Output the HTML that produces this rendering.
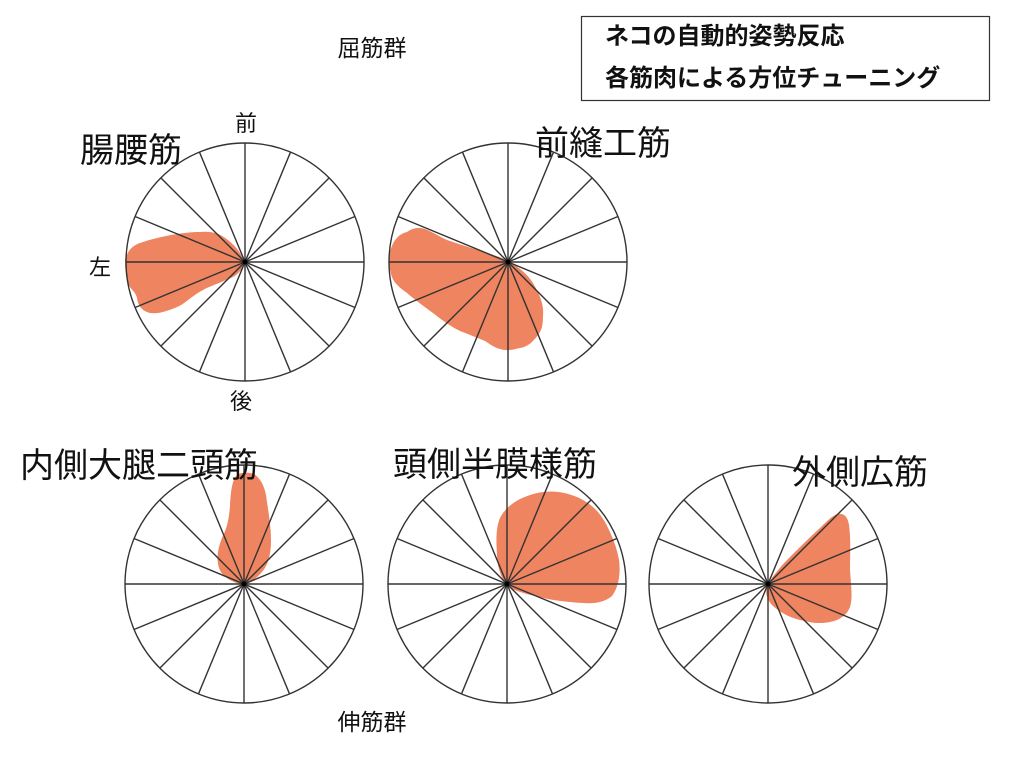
<!DOCTYPE html>
<html><head><meta charset="utf-8"><style>
body{margin:0;background:#fff;}
svg text{font-family:"Liberation Sans","Noto Sans CJK JP",sans-serif;fill:#111;}
</style></head><body>
<svg width="1024" height="768" viewBox="0 0 1024 768" xmlns="http://www.w3.org/2000/svg">
<defs>
<g id="sp" stroke="#333" stroke-width="1.4" fill="none">
<circle r="119"/>
<line x1="-119" y1="0" x2="119" y2="0"/>
<line x1="-119" y1="0" x2="119" y2="0" transform="rotate(22.5)"/>
<line x1="-119" y1="0" x2="119" y2="0" transform="rotate(45)"/>
<line x1="-119" y1="0" x2="119" y2="0" transform="rotate(67.5)"/>
<line x1="-119" y1="0" x2="119" y2="0" transform="rotate(90)"/>
<line x1="-119" y1="0" x2="119" y2="0" transform="rotate(112.5)"/>
<line x1="-119" y1="0" x2="119" y2="0" transform="rotate(135)"/>
<line x1="-119" y1="0" x2="119" y2="0" transform="rotate(157.5)"/>
</g>
</defs>
<g fill="#ee8460" stroke="none">
<path d="M125,260 C128,250 132,246 140,243 C160,236 185,232 200,232 C210,231 218,233 222,236 C232,242 240,250 245,263 C242,270 238,274 233,277 C220,283 210,286 203,290 C190,297 185,304 177,307 C165,312 158,314 150,313 C142,311 138,306 137,298 C136,293 132,290 130,287 C127,282 125,272 125,260 Z"/>
<path d="M390,253 C392,242 398,234 407,232 C413,228 418,227 425,229 C433,232 440,237 447,240 C470,248 490,253 507,260 C520,268 528,275 533,283 C540,295 544,305 543,315 C543,325 542,330 538,335 C532,343 527,347 520,348 C512,350 507,351 500,349 C493,347 490,344 485,341 C475,337 468,334 460,331 C450,326 442,320 433,313 C422,305 414,299 407,293 C400,288 394,283 392,277 C389,269 389,260 390,253 Z"/>
<path d="M243,585 C232,582 222,577 219,568 C216,558 218,548 222,538 C227,528 229,520 230,505 C231,490 232,482 236,476 C240,472 248,472 254,474 C260,478 264,485 266,495 C268,510 271,525 271,540 C271,555 268,565 262,572 C257,578 250,583 243,585 Z"/>
<path d="M506,585 C500,575 497,565 497,555 C496,540 496,527 500,518 C505,508 515,500 530,495 C545,490 560,490 577,497 C590,503 598,510 605,522 C612,535 617,548 619,560 C621,575 618,588 612,596 C605,602 595,604 583,603 C565,602 550,600 535,596 C522,593 512,590 506,585 Z"/>
<path d="M768,584 C775,573 782,565 790,557 C800,547 810,537 820,528 C828,520 833,515 838,514 C845,513 848,518 849,525 C851,540 850,555 850,570 C851,585 853,598 850,607 C847,615 840,620 830,622 C820,624 812,623 800,620 C788,617 780,612 773,606 C767,600 764,592 768,584 Z"/>
</g>
<use href="#sp" x="245" y="262"/>
<use href="#sp" x="508" y="262"/>
<use href="#sp" x="244" y="584"/>
<use href="#sp" x="507" y="584"/>
<use href="#sp" x="768" y="584"/>
<g fill="#000">
<circle cx="245" cy="262" r="2.5"/><circle cx="508" cy="262" r="2.5"/><circle cx="244" cy="584" r="2.5"/><circle cx="507" cy="584" r="2.5"/><circle cx="768" cy="584" r="2.5"/>
</g>
<rect x="581.5" y="16.5" width="408" height="84" fill="none" stroke="#333" stroke-width="1.2"/>
<text x="605" y="44" font-size="24" font-weight="bold">ネコの自動的姿勢反応</text>
<text x="605" y="86" font-size="24" font-weight="bold">各筋肉による方位チューニング</text>
<text x="372" y="56" font-size="23" text-anchor="middle">屈筋群</text>
<text x="372" y="730" font-size="23" text-anchor="middle">伸筋群</text>
<text x="246" y="131" font-size="22" text-anchor="middle">前</text>
<text x="241" y="409" font-size="22" text-anchor="middle">後</text>
<text x="100" y="275" font-size="22" text-anchor="middle">左</text>
<text x="80" y="162" font-size="34">腸腰筋</text>
<text x="535" y="155" font-size="34">前縫工筋</text>
<text x="20" y="477" font-size="34">内側大腿二頭筋</text>
<text x="393" y="476" font-size="34">頭側半膜様筋</text>
<text x="792" y="484" font-size="34">外側広筋</text>
</svg>
</body></html>
